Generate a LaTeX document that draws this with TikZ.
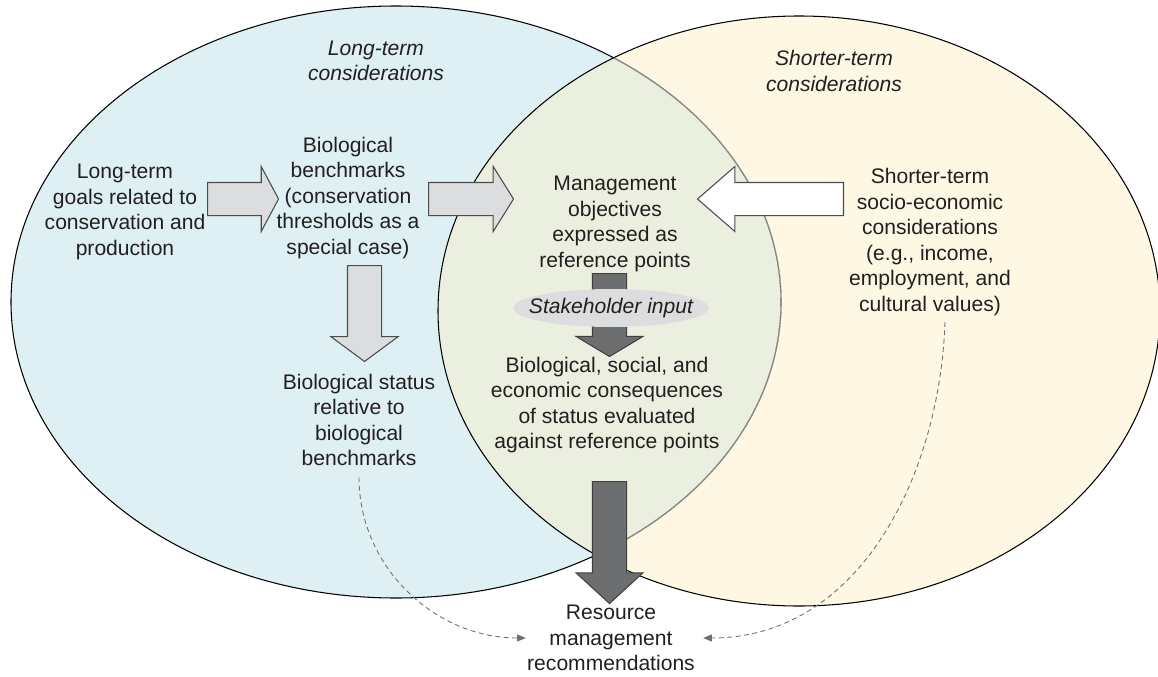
\documentclass[tikz,border=0pt]{standalone}
\usepackage{fontspec}
\setmainfont{Liberation Sans}
\usepackage{xcolor}
\usetikzlibrary{arrows.meta, positioning, shapes.arrows, shapes.geometric}
\definecolor{longblue}{HTML}{DEF0F3}
\definecolor{shortcream}{HTML}{FDF7E4}
\definecolor{overlapgreen}{HTML}{EBEFDF}
\definecolor{arrowgray}{HTML}{DCDDDF}
\definecolor{darkfill}{HTML}{6D6E70}
\definecolor{inkgray}{HTML}{231F20}
\definecolor{dashgray}{HTML}{707072}

\begin{document}
\begin{tikzpicture}[x=0.02cm, y=-0.02cm,
        textbox/.style={align=center, text=inkgray, inner sep=0pt, font=\fontsize{12}{14.5}\selectfont},
        heading/.style={textbox, font=\fontsize{12}{14.5}\selectfont\itshape},
        blockarrow/.style={single arrow, anchor=tail, inner xsep=0pt, inner ysep=0.32cm, single arrow head extend=0.32cm, line width=0.6pt},
        downarrow/.style={blockarrow, shape border rotate=270, inner xsep=0.33cm, inner ysep=0pt, single arrow head extend=0.33cm},
        lightarrow/.style={blockarrow, draw=black!70, fill=arrowgray},
        openarrow/.style={blockarrow, draw=black!70, fill=white},
        darkarrow/.style={downarrow, draw=black!75, fill=darkfill},
        feedback/.style={dashgray, line width=0.5pt, dash pattern=on 2.8pt off 2pt, -{Triangle[length=5pt, width=4pt]}}
    ]
    \useasboundingbox (0,0) rectangle (1158,676);

    % Two overlapping fields
    \fill[longblue] (396,302) ellipse [x radius=385, y radius=296];
    \fill[shortcream] (799,311) ellipse [x radius=361, y radius=295];
    \begin{scope}
        \clip (396,302) ellipse [x radius=385, y radius=296];
        \fill[overlapgreen] (799,311) ellipse [x radius=361, y radius=295];
    \end{scope}
    \draw[line width=0.6pt] (396,302) ellipse [x radius=385, y radius=296];
    \begin{scope}
        \clip (799,311) ellipse [x radius=361, y radius=295];
        \draw[line width=0.8pt, overlapgreen] (396,302) ellipse [x radius=385, y radius=296];
        \draw[line width=0.6pt, black!50] (396,302) ellipse [x radius=385, y radius=296];
    \end{scope}
    \draw[line width=0.6pt] (799,311) ellipse [x radius=361, y radius=295];

    % Headings
    \node[heading] (longterm) at (376,61) {Long-term\\considerations};
    \node[heading] (shortterm) at (834,71) {Shorter-term\\considerations};

    % Text blocks
    \node[textbox] (goals) at (125,212) {Long-term\\goals related to\\conservation and\\production};
    \node[textbox] (bench) at (348,198) {Biological\\benchmarks\\(conservation\\thresholds as a\\special case)};
    \node[textbox] (mgmt) at (615,224) {Management\\objectives\\expressed as\\reference points};
    \node[textbox] (socio) at (930,242) {Shorter-term\\socio-economic\\considerations\\(e.g., income,\\employment, and\\cultural values)};
    \node[textbox] (bstatus) at (359,420) {Biological status\\relative to\\biological\\benchmarks};
    \node[textbox] (conseq) at (607,405) {Biological, social, and\\economic consequences\\of status evaluated\\against reference points};
    \node[textbox] (resource) at (611,638) {Resource\\management\\recommendations};

    % Block arrows
    \node[lightarrow, minimum height=1.42cm, single arrow tip angle=124] (goaltobench) at (207,199) {};
    \node[lightarrow, minimum height=1.7cm, single arrow tip angle=116] (benchtomgmt) at (428,199) {};
    \node[openarrow, shape border rotate=180, minimum height=2.92cm, single arrow tip angle=82] (sociotomgmt) at (844,199) {};
    \node[lightarrow, downarrow, minimum height=1.92cm, single arrow tip angle=107] (benchtostatus) at (364.5,265) {};
    \node[darkarrow, minimum height=1.66cm, single arrow tip angle=118] (mgmttoconseq) at (609.5,273) {};
    \node[darkarrow, minimum height=2.44cm, single arrow tip angle=95] (conseqtores) at (609.5,481) {};

    % Stakeholder input
    \node[ellipse, fill=arrowgray, inner sep=0pt, minimum width=3.9cm, minimum height=0.76cm, text=inkgray, font=\fontsize{12}{14.5}\selectfont\itshape] (stake) at (611,308) {\makebox[0pt]{Stakeholder input}};

    % Dashed links
    \draw[feedback] ([yshift=-0.22cm]bstatus.south) to[out=-90, in=180] ([xshift=-0.02cm]resource.west);
    \draw[feedback] ([xshift=0.3cm, yshift=-0.12cm]socio.south) to[out=-92, in=0] ([xshift=0.16cm]resource.east);

\end{tikzpicture}
\end{document}
